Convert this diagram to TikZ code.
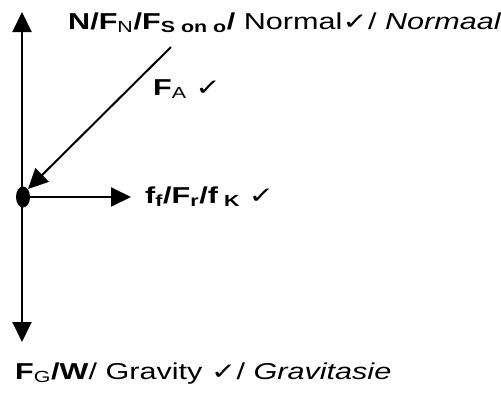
\documentclass[tikz,border=0pt]{standalone}
\usepackage{graphicx}
\usepackage{fontspec}
\setmainfont{Liberation Sans}
\newfontfamily\symfont{DejaVu Sans}
\usetikzlibrary{arrows.meta,shapes.geometric}
\newcommand{\tick}{{\symfont\char"2713}}
\newcommand{\sbs}[1]{\textsubscript{#1}}
\newcommand{\wide}[1]{\scalebox{1.33}[1]{#1}}
\begin{document}
\begin{tikzpicture}[x=1pt,y=-1pt,
  vec/.style={line width=2pt,-{Triangle[length=20pt,width=19pt]}},
  lbl/.style={anchor=base west,inner sep=0pt,font=\fontsize{23}{26}\selectfont}]
\useasboundingbox (0,0) rectangle (501,397);
\node[ellipse,fill=black,minimum width=14pt,minimum height=21pt,inner sep=0pt] (dot) at (23,197) {};
\coordinate (up) at (22,12);
\coordinate (down) at (22,342);
\coordinate (right) at (131,197);
\coordinate (astart) at (171,47);
\coordinate (aend) at (28,189);
\coordinate (dtop) at (22,197);
\draw[vec] (dtop) -- (up);
\draw[vec] (dtop) -- (down);
\draw[vec] (dot.center) -- (right);
\draw[vec] (astart) -- (aend);
\node[lbl] (nlab) at (68,29) {\wide{\textbf{N/F\sbs{\mdseries N}/F\sbs{S on o}/} Normal\tick/ \textit{Normaal}}};
\node[lbl] (falab) at (153,95) {\wide{\textbf{F}\sbs{A} \tick}};
\node[lbl] (flab) at (145,203) {\wide{\textbf{f\sbs{f}/F\sbs{r}/f\sbs{ K}} \tick}};
\node[lbl] (glab) at (15,379) {\wide{\textbf{F}\sbs{G}\textbf{/W}/ Gravity \tick/ \textit{Gravitasie}}};
\end{tikzpicture}
\end{document}
